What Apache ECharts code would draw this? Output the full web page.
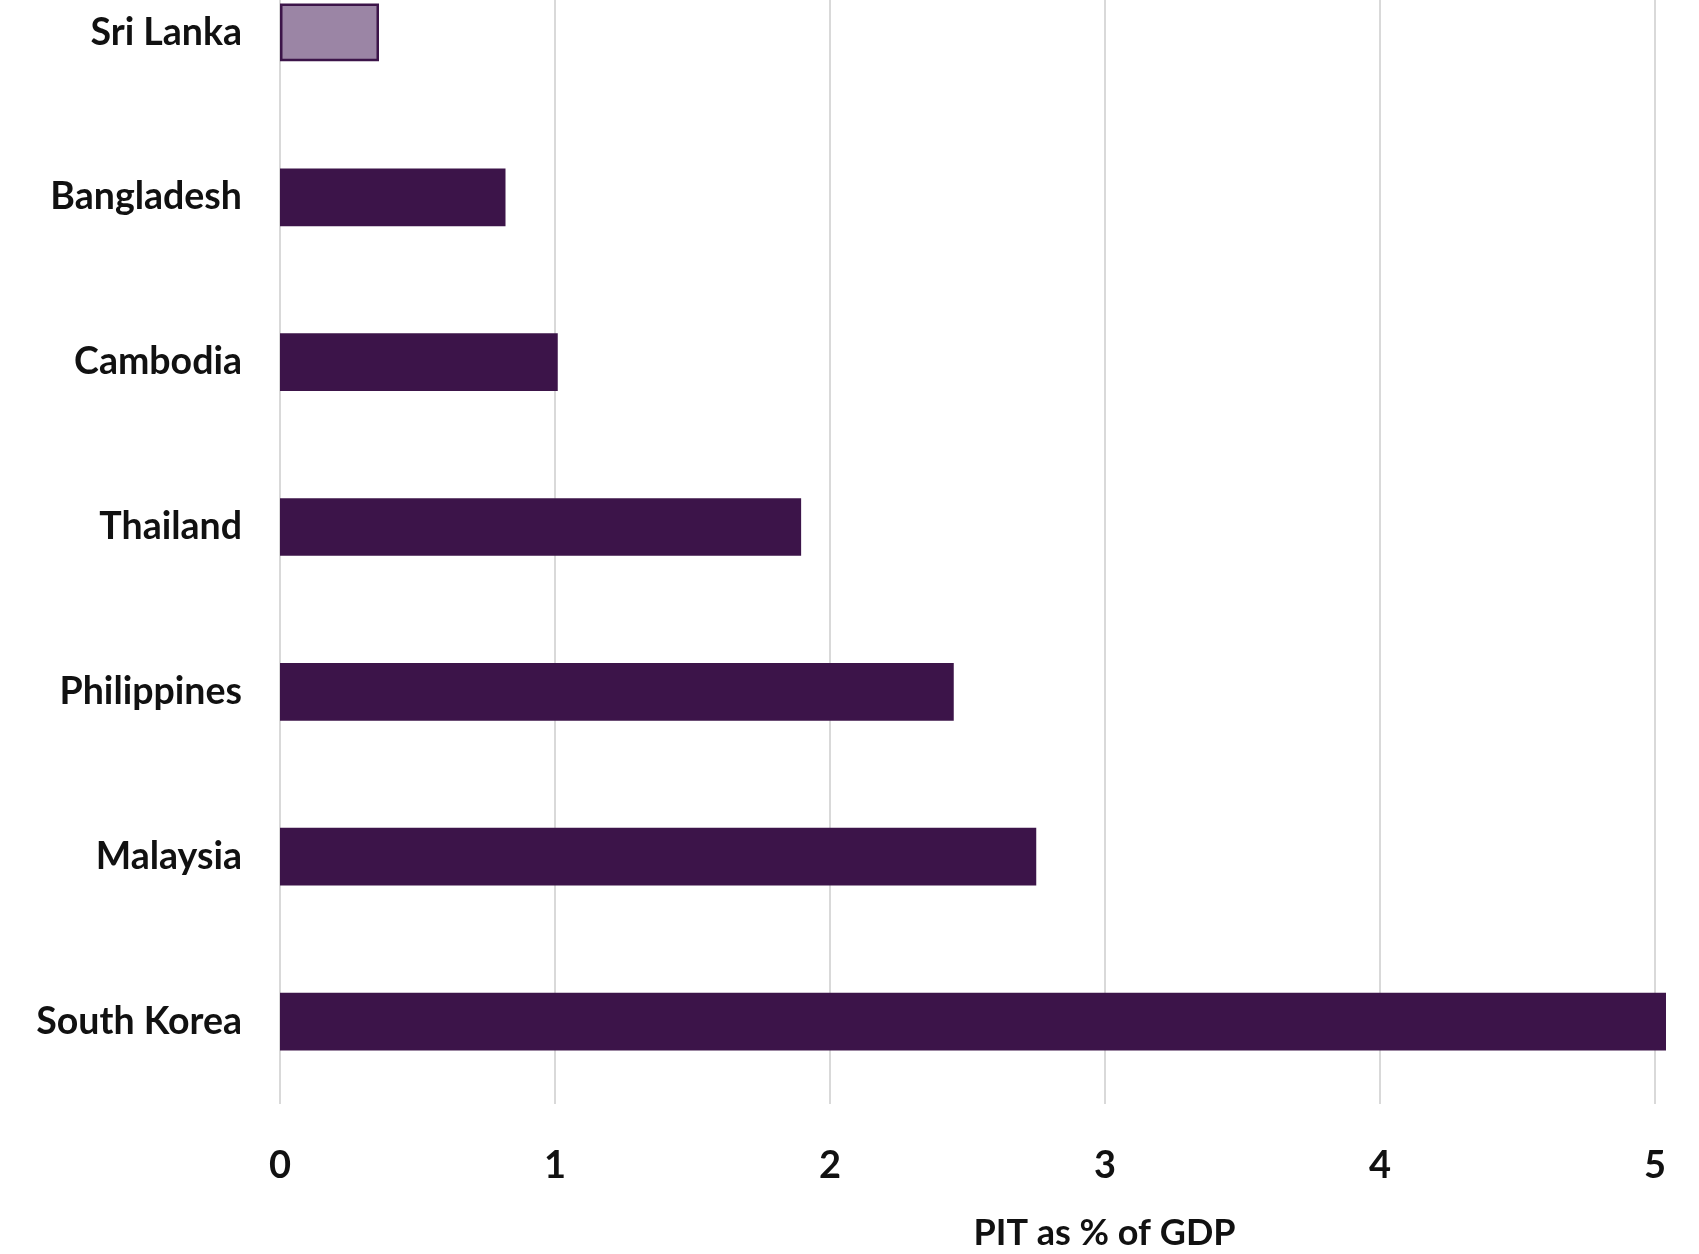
<!DOCTYPE html>
<html>
<head>
<meta charset="utf-8">
<style>html,body{margin:0;padding:0;background:#fff;}#c{width:1699px;height:1254px;}</style>
<script src="https://cdn.jsdelivr.net/npm/echarts@6/dist/echarts.min.js"></script>
</head>
<body>
<div id="c"></div>
<script>
const categories = ["Sri Lanka", "Bangladesh", "Cambodia", "Thailand", "Philippines", "Malaysia", "South Korea"];
const pitValues = [0.36, 0.82, 1.01, 1.895, 2.45, 2.75, 5.04];
const xTicks = [0, 1, 2, 3, 4, 5];
const axisTitle = "PIT as % of GDP";

const dark = "#3c1449";
const light = "#9b85a5";
const font = "Lato";

const chart = echarts.init(document.getElementById("c"));
chart.setOption({
  animation: false,
  backgroundColor: "#ffffff",
  grid: { left: 280, right: 44, top: -50, bottom: 150, containLabel: false, outerBoundsMode: "none" },
  xAxis: {
    type: "value",
    min: xTicks[0],
    max: xTicks[xTicks.length - 1],
    interval: 1,
    axisLine: { show: false },
    axisTick: { show: false },
    splitLine: { show: true, lineStyle: { color: "#d9d9d9", width: 2 } },
    axisLabel: { margin: 43, fontFamily: font, fontWeight: "bold", fontSize: 38, color: "#111" },
    name: axisTitle,
    nameLocation: "middle",
    nameGap: 111,
    nameTextStyle: { fontFamily: font, fontWeight: "bold", fontSize: 36, color: "#111", padding: [0, 0, 0, 274] }
  },
  yAxis: {
    type: "category",
    data: categories,
    inverse: true,
    axisLine: { show: false },
    axisTick: { show: false },
    splitLine: { show: false },
    axisLabel: { margin: 38, fontFamily: font, fontWeight: "bold", fontSize: 37.5, color: "#111" }
  },
  series: [{
    type: "bar",
    clip: false,
    barWidth: "35%",
    data: pitValues.map((v, i) => ({
      value: v,
      itemStyle: i === 0
        ? { color: light, borderColor: dark, borderWidth: 2.5 }
        : { color: dark }
    }))
  }]
});
</script>
</body>
</html>
